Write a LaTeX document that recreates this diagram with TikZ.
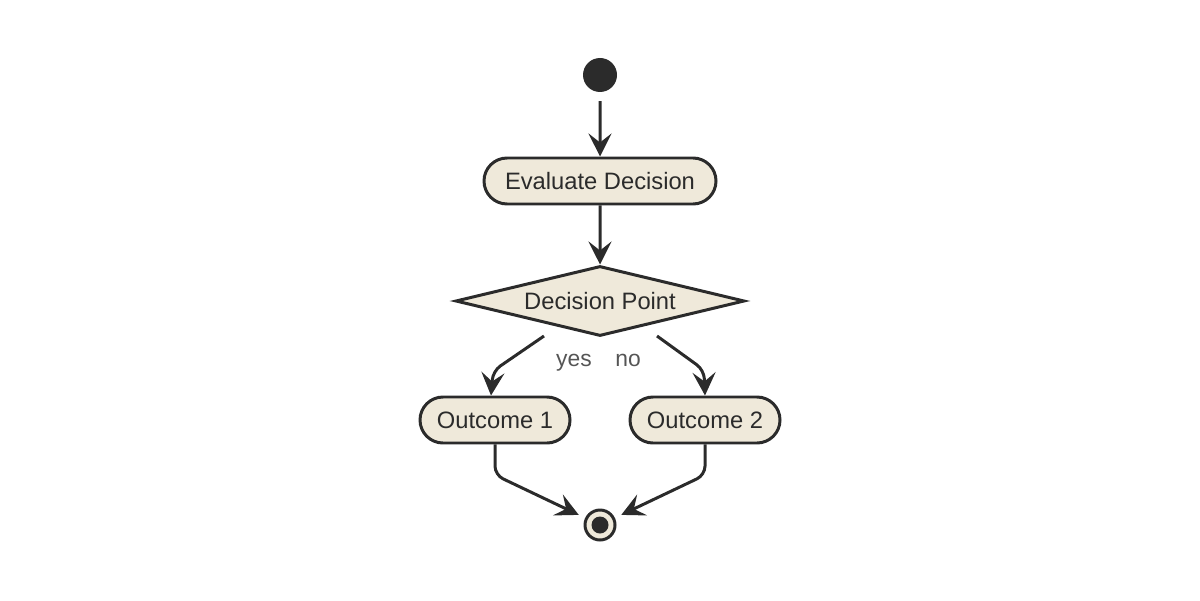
\documentclass[tikz,border=0pt]{standalone}
\usepackage{fontspec}
\setmainfont{Liberation Sans}
\usetikzlibrary{shapes.geometric,shapes.misc,arrows.meta}
\definecolor{myfillcolor}{HTML}{EFE9DA}
\definecolor{mylinecolor}{HTML}{2B2B2B}
\definecolor{mylabelcolor}{HTML}{555555}
\tikzset{
  myactivity/.style={draw=mylinecolor, fill=myfillcolor, rounded rectangle, line width=1.7pt, minimum height=0.92cm, inner xsep=0pt, font=\fontsize{13.5pt}{13.5pt}\selectfont, text=mylinecolor},
  mydecision/.style={draw=mylinecolor, fill=myfillcolor, diamond, shape aspect=4.1, line width=1.7pt, minimum width=5.78cm, minimum height=1.4cm, inner sep=0pt, font=\fontsize{13.5pt}{13.5pt}\selectfont, text=mylinecolor},
  myflow/.style={draw=mylinecolor, line width=1.7pt, rounded corners=5pt, -{Stealth[length=4.6mm, width=4.6mm, inset=1.8mm]}},
  myguard/.style={text=mylabelcolor, anchor=base, font=\fontsize{13pt}{13pt}\selectfont}
}

\begin{document}
\begin{tikzpicture}%
\useasboundingbox (0,0) rectangle (24,12);%
\node[circle, fill=mylinecolor, minimum size=0.68cm, inner sep=0pt] (start) at (12, 10.5) {};%
\node[myactivity, minimum width=4.64cm] (evaluate) at (12, 8.38) {Evaluate Decision};%
\node[mydecision] (decision) at (12, 5.98) {Decision Point};%
\node[myactivity, minimum width=3.0cm] (outcome1) at (9.9, 3.6) {Outcome 1};%
\node[myactivity, minimum width=3.0cm] (outcome2) at (14.1, 3.6) {Outcome 2};%
\node[circle, draw=mylinecolor, fill=myfillcolor, line width=1.7pt, minimum size=0.6cm, inner sep=0pt,
  path picture={\fill[mylinecolor] (path picture bounding box.center) circle (0.17cm);}] (end) at (12, 1.5) {};%
\coordinate (yesfrom) at (10.88, 5.28);%
\coordinate (nofrom) at (13.14, 5.28);%
\node[myguard] (yes) at (11.48, 4.68) {yes};%
\node[myguard] (no) at (12.56, 4.68) {no};%
\draw[myflow, shorten <=5pt] (start) -- (evaluate);%
\draw[myflow] (evaluate) -- (decision);%
\draw[myflow] (yesfrom) -- (9.86, 4.58) -- (outcome1.north -| 9.82, 0);%
\draw[myflow] (nofrom) -- (14.08, 4.6) -- (outcome2.north -| 14.1, 0);%
\draw[myflow, shorten >=4pt] (outcome1.south) -- (9.9, 2.5) -- (end);%
\draw[myflow, shorten >=4pt] (outcome2.south) -- (14.1, 2.5) -- (end);%
\end{tikzpicture}
\end{document}
